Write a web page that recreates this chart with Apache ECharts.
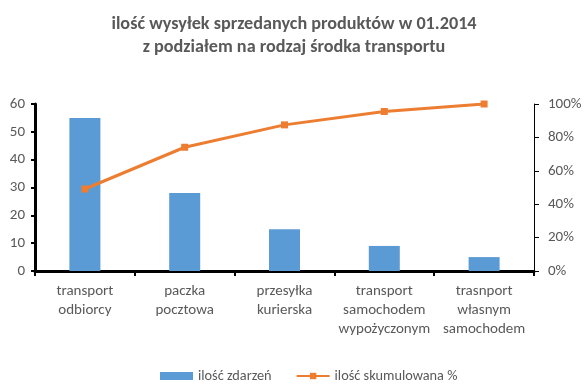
<!DOCTYPE html>
<html><head><meta charset="utf-8">
<script src="https://cdn.jsdelivr.net/npm/echarts@6/dist/echarts.min.js"></script>
<style>html,body{margin:0;padding:0;background:#fff}#c{width:588px;height:391px}</style>
</head><body><div id="c"></div>
<script>
const categories = ['transport\nodbiorcy', 'paczka\npocztowa', 'przesyłka\nkurierska', 'transport\nsamochodem\nwypożyczonym', 'trasnport\nwłasnym\nsamochodem'];
const counts = [55, 28, 15, 9, 5];
const cumulativePct = [49.1, 74.1, 87.5, 95.5, 100];
const leftTicks = [0, 60, 10];
const rightTicks = [0, 100, 20];

const font = 'Carlito, Calibri, "Open Sans", "Noto Sans", sans-serif';
const chart = echarts.init(document.getElementById('c'));
chart.setOption({
  animation: false,
  textStyle: { fontFamily: font },
  title: {
    text: 'ilość wysyłek sprzedanych produktów w 01.2014\nz podziałem na rodzaj środka transportu',
    left: 'center', top: 8,
    textStyle: { fontSize: 18.2, fontWeight: 'bold', color: '#595959', lineHeight: 23, fontFamily: font }
  },
  legend: {
    bottom: 3, left: 155, itemGap: 24, itemWidth: 33, itemHeight: 8,
    textStyle: { fontSize: 14.3, color: '#595959', fontFamily: font },
    data: [
      { name: 'ilość zdarzeń', icon: 'rect' },
      { name: 'ilość skumulowana %' }
    ]
  },
  grid: { left: 35, right: 54, top: 104, bottom: 120, containLabel: false },
  xAxis: {
    type: 'category', data: categories,
    axisLine: { lineStyle: { color: '#000', width: 3 } },
    axisTick: { show: true, alignWithLabel: false, length: 5, lineStyle: { color: '#000', width: 2 } },
    axisLabel: { fontSize: 15, color: '#595959', lineHeight: 19, margin: 11, interval: 0 }
  },
  yAxis: [
    {
      type: 'value', min: leftTicks[0], max: leftTicks[1], interval: leftTicks[2],
      axisLine: { show: true, lineStyle: { color: '#000', width: 3 } },
      axisTick: { show: true, length: 4, lineStyle: { color: '#000', width: 2 } },
      axisLabel: { fontSize: 15, color: '#595959', margin: 10 },
      splitLine: { show: false }
    },
    {
      type: 'value', min: rightTicks[0], max: rightTicks[1], interval: rightTicks[2],
      position: 'right',
      axisLine: { show: true, lineStyle: { color: '#000', width: 1 } },
      axisTick: { show: true, length: 5, lineStyle: { color: '#000', width: 1 } },
      axisLabel: { fontSize: 15, color: '#595959', margin: 14, formatter: '{value}%' },
      splitLine: { show: false }
    }
  ],
  series: [
    {
      name: 'ilość zdarzeń', type: 'bar', data: counts, barWidth: 31,
      itemStyle: { color: '#5B9BD5' }
    },
    {
      name: 'ilość skumulowana %', type: 'line', yAxisIndex: 1, data: cumulativePct,
      symbol: 'rect', symbolSize: 7,
      lineStyle: { color: '#ED7D31', width: 3 },
      itemStyle: { color: '#ED7D31' }
    }
  ]
});
</script></body></html>
